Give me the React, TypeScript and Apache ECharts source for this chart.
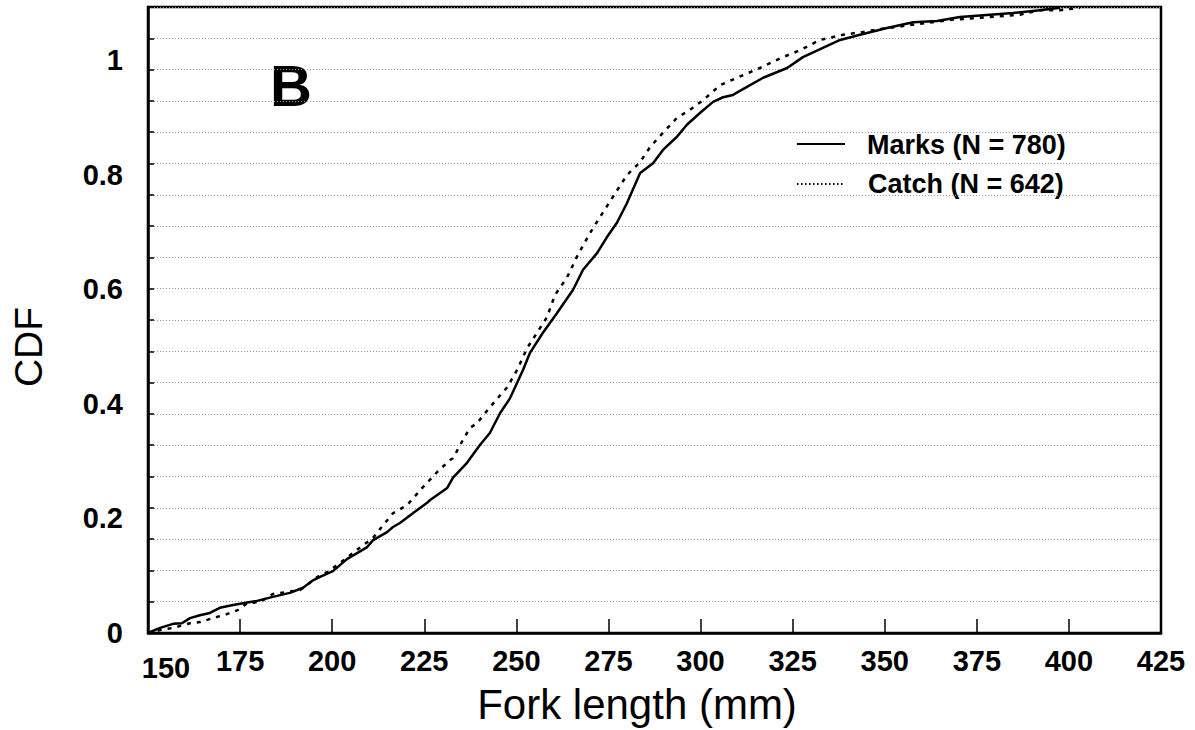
import React, { useEffect, useRef } from "react";
import * as echarts from "echarts";

// Fork length (mm) and CDF readings for each sample
const marksLength = [150, 153.3, 156.8, 159.2, 161.4, 164.1, 166.8, 169.5, 173.1, 175.8, 179.6, 183.9, 188.5, 192.1, 194.8, 196.7, 200.2, 204.0, 209.5, 211.1, 214.9, 216.5, 218.4, 221.9, 225.7, 226.6, 231.2, 232.8, 236.6, 240.1, 242.8, 245.6, 248.3, 251.8, 253.7, 257.2, 261.0, 265.4, 268.1, 271.9, 274.6, 277.3, 280.0, 283.6, 287.1, 289.8, 293.6, 296.3, 299.9, 303.4, 306.1, 308.8, 312.6, 317.0, 323.5, 327.8, 333.2, 337.9, 343.3, 350.6, 357.7, 364.2, 370.4, 378.6, 384.8, 392.1, 397.6];
const marksCdf = [0, 0.009, 0.016, 0.017, 0.026, 0.031, 0.035, 0.044, 0.049, 0.052, 0.056, 0.063, 0.070, 0.079, 0.092, 0.098, 0.108, 0.129, 0.150, 0.162, 0.176, 0.185, 0.192, 0.209, 0.227, 0.232, 0.253, 0.271, 0.297, 0.328, 0.349, 0.384, 0.410, 0.459, 0.489, 0.524, 0.558, 0.599, 0.634, 0.663, 0.691, 0.716, 0.750, 0.803, 0.820, 0.843, 0.866, 0.887, 0.908, 0.927, 0.935, 0.939, 0.953, 0.969, 0.986, 1.005, 1.021, 1.035, 1.044, 1.056, 1.066, 1.068, 1.075, 1.079, 1.082, 1.087, 1.091];

const catchLength = [150, 153.3, 156.8, 161.4, 164.1, 167.6, 171.4, 174.4, 176.9, 180.4, 183.9, 191.3, 196.7, 198.6, 202.1, 206.7, 211.1, 213.8, 216.5, 220.3, 224.7, 228.5, 232.0, 232.8, 235.5, 237.4, 239.3, 242.8, 247.5, 250.2, 252.9, 258.3, 260.5, 263.7, 266.7, 270.0, 272.7, 276.2, 280.0, 283.6, 286.3, 289.8, 293.6, 297.1, 300.7, 305.3, 309.9, 316.1, 321.6, 327.0, 332.4, 338.7, 344.1, 348.7, 367.7, 378.6, 386.7, 392.1, 397.6, 403.0];
const catchCdf = [0, 0.005, 0.009, 0.017, 0.019, 0.026, 0.033, 0.040, 0.052, 0.054, 0.068, 0.075, 0.101, 0.106, 0.122, 0.145, 0.166, 0.188, 0.209, 0.223, 0.255, 0.281, 0.302, 0.305, 0.337, 0.358, 0.366, 0.394, 0.429, 0.459, 0.497, 0.551, 0.590, 0.620, 0.660, 0.698, 0.726, 0.761, 0.799, 0.822, 0.848, 0.873, 0.899, 0.913, 0.930, 0.956, 0.969, 0.986, 1.003, 1.017, 1.035, 1.044, 1.049, 1.054, 1.070, 1.075, 1.079, 1.087, 1.087, 1.091];

const seriesNames = ["Marks (N = 780)", "Catch (N = 642)"];
const xTitle = "Fork length (mm)";
const yTitle = "CDF";
const panelLabel = "B";

const FONT = "'Liberation Sans', Arial, Helvetica, sans-serif";

export default function App() {
  const ref = useRef<HTMLDivElement>(null);

  useEffect(() => {
    document.body.style.margin = "0";
    if (!ref.current) return;
    const chart = echarts.init(ref.current, null, { renderer: "svg" });
    const zip = (xs: number[], ys: number[]) => xs.map((x, i) => [x, ys[i]]);

    chart.setOption({
      animation: false,
      backgroundColor: "#fff",
      grid: {
        left: 148,
        top: 7,
        right: 34,
        bottom: 97,
        show: true,
        borderColor: "#000",
        borderWidth: 2.5,
        containLabel: false,
        outerBoundsMode: "none",
      },
      xAxis: {
        type: "value",
        min: 150,
        max: 425,
        interval: 25,
        axisLine: { show: true, lineStyle: { color: "#000", width: 2.5 } },
        axisTick: { show: true, inside: true, length: 14, lineStyle: { color: "#000", width: 1.5 } },
        splitLine: { show: false },
        axisLabel: {
          margin: 13,
          color: "#000",
          fontFamily: FONT,
          fontSize: 29,
          fontWeight: "bold",
          formatter: (v: number) => (v === 150 ? "{a|150}" : String(v)),
          rich: {
            a: {
              fontFamily: FONT,
              fontSize: 29,
              fontWeight: "bold",
              color: "#000",
              padding: [7, 0, 0, 36],
            },
          },
        },
      },
      yAxis: [
        {
          type: "value",
          position: "left",
          min: 0,
          max: 1.0925,
          interval: 0.2,
          axisLine: { show: true, lineStyle: { color: "#000", width: 2.5 } },
          axisTick: { show: false },
          splitLine: { show: false },
          axisLabel: {
            margin: 25,
            color: "#000",
            fontFamily: FONT,
            fontSize: 29,
            fontWeight: "bold",
            formatter: (v: number) => {
              const r = Math.round(v * 5);
              if (Math.abs(v * 5 - r) > 1e-6) return "";
              if (r === 0) return "0";
              if (r === 5) return "1";
              return String(r / 5);
            },
          },
        },
        {
          type: "value",
          position: "left",
          min: 0,
          max: 20,
          interval: 1,
          axisLine: { show: false },
          axisTick: { show: true, inside: true, length: 6, lineStyle: { color: "#000", width: 1.5 } },
          axisLabel: { show: false },
          splitLine: { show: true, lineStyle: { color: "#999", width: 1, type: [1, 2] } },
        },
      ],
      series: [
        {
          name: seriesNames[0],
          type: "line",
          yAxisIndex: 0,
          symbol: "none",
          showSymbol: false,
          data: zip(marksLength, marksCdf),
          lineStyle: { color: "#000", width: 2.5, type: "solid" },
          itemStyle: { color: "#000" },
          z: 3,
        },
        {
          name: seriesNames[1],
          type: "line",
          yAxisIndex: 0,
          symbol: "none",
          showSymbol: false,
          data: zip(catchLength, catchCdf),
          lineStyle: { color: "#000", width: 2.5, type: [4, 6] },
          itemStyle: { color: "#000" },
          z: 3,
        },
      ],
      graphic: [
        {
          type: "text",
          left: 270,
          top: 56,
          style: { text: panelLabel, font: `bold 58px ${FONT}`, fill: "#000" },
        },
        // legend
        {
          type: "line",
          shape: { x1: 797, y1: 144, x2: 845, y2: 144 },
          style: { stroke: "#000", lineWidth: 2.2 },
        },
        {
          type: "text",
          x: 867,
          y: 145,
          style: {
            text: seriesNames[0],
            font: `bold 27px ${FONT}`,
            fill: "#000",
            align: "left",
            verticalAlign: "middle",
          },
        },
        {
          type: "line",
          shape: { x1: 797, y1: 184, x2: 843, y2: 184 },
          style: { stroke: "#000", lineWidth: 2, lineDash: [1.5, 2.5] },
        },
        {
          type: "text",
          x: 868,
          y: 184,
          style: {
            text: seriesNames[1],
            font: `bold 27px ${FONT}`,
            fill: "#000",
            align: "left",
            verticalAlign: "middle",
          },
        },
        {
          type: "text",
          x: 637,
          y: 704,
          style: {
            text: xTitle,
            font: `42px ${FONT}`,
            fill: "#000",
            align: "center",
            verticalAlign: "middle",
          },
        },
        {
          type: "text",
          x: 28,
          y: 347,
          rotation: Math.PI / 2,
          style: {
            text: yTitle,
            font: `39px ${FONT}`,
            fill: "#000",
            align: "center",
            verticalAlign: "middle",
          },
        },
      ],
    });

    return () => chart.dispose();
  }, []);

  return (
    <div
      ref={ref}
      style={{ position: "fixed", left: 0, top: 0, width: 1195, height: 730 }}
    />
  );
}
